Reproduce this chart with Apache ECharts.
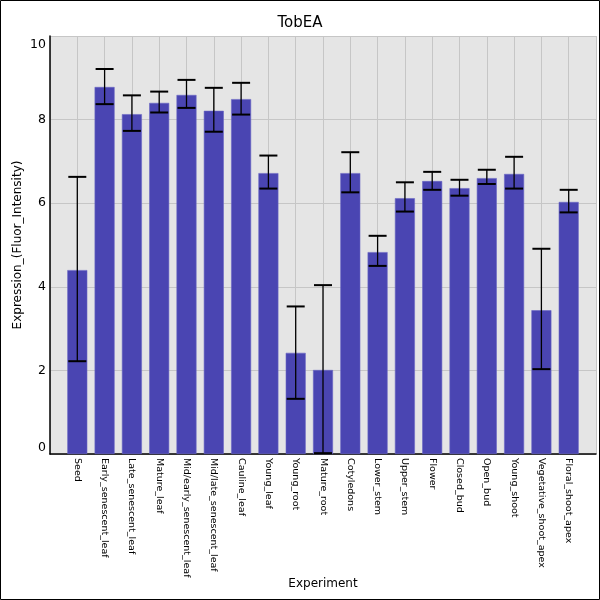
<!DOCTYPE html>
<html>
<head>
<meta charset="utf-8">
<script src="https://cdn.jsdelivr.net/npm/echarts@6/dist/echarts.min.js"></script>
<style>
  html, body { margin: 0; padding: 0; background: #fff; }
  #chart { width: 600px; height: 600px; }
</style>
</head>
<body>
<div id="chart"></div>
<script>
// data
const experiments = [
  'Seed', 'Early_senescent_leaf', 'Late_senescent_leaf', 'Mature_leaf',
  'Mid/early_senescent_leaf', 'Mid/late_senescent_leaf', 'Cauline_leaf',
  'Young_leaf', 'Young_root', 'Mature_root', 'Cotyledons', 'Lower_stem',
  'Upper_stem', 'Flower', 'Closed_bud', 'Open_bud', 'Young_shoot',
  'Vegetative_shoot_apex', 'Floral_shoot_apex'
]
const expression = [4.40, 8.78, 8.13, 8.40, 8.59, 8.21, 8.49, 6.72, 2.42, 2.01,
  6.72, 4.83, 6.12, 6.53, 6.36, 6.60, 6.70, 3.44, 6.03]
const errLow = [2.22, 8.37, 7.73, 8.17, 8.28, 7.71, 8.12, 6.35, 1.32, 0.02,
  6.26, 4.50, 5.80, 6.32, 6.18, 6.46, 6.35, 2.03, 5.78]
const errHigh = [6.63, 9.21, 8.58, 8.67, 8.95, 8.76, 8.88, 7.14, 3.53, 4.04,
  7.22, 5.22, 6.50, 6.75, 6.56, 6.80, 7.11, 4.91, 6.32]
const yTicks = [0, 2, 4, 6, 8, 10]

const FONT = 'DejaVu Sans'

// one empty slot at each end so bars sit half a step in from the edges
const cats = [''].concat(experiments, [''])
const barData = [null].concat(expression, [null])
const errData = experiments.map((_, i) => [i + 1, errLow[i], errHigh[i]])

const chart = echarts.init(document.getElementById('chart'), null, { renderer: 'canvas' })

chart.setOption({
  backgroundColor: '#fff',
  animation: false,
  textStyle: { fontFamily: FONT },
  title: {
    text: 'TobEA',
    left: 'center',
    top: 11,
    textStyle: { fontFamily: FONT, fontSize: 15, fontWeight: 'normal', color: '#000' }
  },
  graphic: [{
    type: 'rect',
    shape: { x: 0.5, y: 0.5, width: 599, height: 599 },
    style: { fill: null, stroke: '#000', lineWidth: 1 },
    silent: true,
    z: 100
  }],
  grid: {
    left: 50, right: 4, top: 36, bottom: 146,
    outerBoundsMode: 'none',
    containLabel: false,
    show: true,
    backgroundColor: '#e5e5e5',
    borderWidth: 0
  },
  xAxis: {
    type: 'category',
    data: cats,
    boundaryGap: false,
    name: 'Experiment',
    nameLocation: 'middle',
    nameGap: 124,
    nameMoveOverlap: false,
    nameTextStyle: { fontFamily: FONT, fontSize: 12, color: '#000' },
    axisLine: { show: true, lineStyle: { color: '#000', width: 1.5 } },
    axisTick: { show: false },
    axisLabel: {
      interval: 0,
      rotate: -90,
      fontFamily: FONT,
      fontSize: 9.5,
      color: '#000',
      margin: 4
    },
    splitLine: { show: true, interval: 0, lineStyle: { color: '#c6c6c6', width: 1 } }
  },
  yAxis: {
    type: 'value',
    min: yTicks[0],
    max: yTicks[yTicks.length - 1],
    interval: 2,
    name: 'Expression_(Fluor_Intensity)',
    nameLocation: 'middle',
    nameGap: 26,
    nameMoveOverlap: false,
    nameTextStyle: { fontFamily: FONT, fontSize: 12, color: '#000' },
    axisLine: { show: true, lineStyle: { color: '#000', width: 1.5 } },
    axisTick: { show: false },
    axisLabel: {
      fontFamily: FONT,
      fontSize: 12.5,
      color: '#000',
      margin: 4,
      padding: [2, 0, 0, 0],
      verticalAlignMinLabel: 'bottom',
      verticalAlignMaxLabel: 'top'
    },
    splitLine: { show: true, lineStyle: { color: '#c6c6c6', width: 1 } }
  },
  series: [
    {
      type: 'bar',
      data: barData,
      barWidth: 20,
      itemStyle: { color: '#4a45b2', borderColor: '#6a66c4', borderWidth: 0.6 }
    },
    {
      type: 'custom',
      data: errData,
      z: 10,
      renderItem: function (params, api) {
        const x = api.value(0)
        const lo = api.coord([x, api.value(1)])
        const hi = api.coord([x, api.value(2)])
        const half = 9
        const stroke = { stroke: '#000', lineWidth: 1.3 }
        const cap = { stroke: '#000', lineWidth: 2 }
        return {
          type: 'group',
          children: [
            { type: 'line', shape: { x1: hi[0], y1: hi[1], x2: lo[0], y2: lo[1] }, style: stroke },
            { type: 'line', shape: { x1: hi[0] - half, y1: hi[1], x2: hi[0] + half, y2: hi[1] }, style: cap },
            { type: 'line', shape: { x1: lo[0] - half, y1: lo[1], x2: lo[0] + half, y2: lo[1] }, style: cap }
          ]
        }
      }
    }
  ]
})
</script>
</body>
</html>
